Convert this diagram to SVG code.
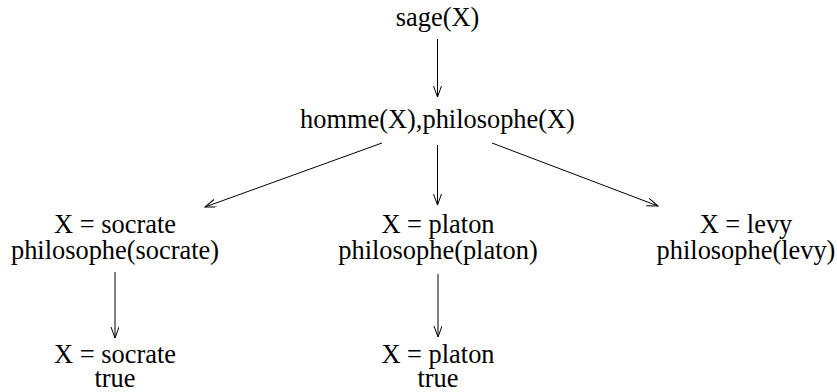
<svg xmlns="http://www.w3.org/2000/svg" width="837" height="392" viewBox="0 0 837 392">
<defs>
<style>
.t{font-family:'Liberation Serif','Times New Roman',Times,serif;font-size:26.4px;fill:#000;text-anchor:middle}
.c line{stroke:#000;stroke-width:1;fill:none;marker-end:url(#ah)}
</style>
<marker id="ah" markerWidth="12" markerHeight="10" refX="11" refY="4" orient="auto" markerUnits="userSpaceOnUse">
<path d="M0,0 L11,4 L0,8" fill="none" stroke="#000" stroke-width="1"/>
</marker>
</defs>
<rect width="837" height="392" fill="#fff"/>
<g class="c" id="connectors">
<line x1="437.5" y1="39" x2="437.5" y2="97"/>
<line x1="382" y1="143" x2="205" y2="207"/>
<line x1="437.5" y1="145" x2="437.5" y2="205"/>
<line x1="492" y1="143" x2="658" y2="206"/>
<line x1="115" y1="272" x2="115" y2="338"/>
<line x1="438" y1="274" x2="438" y2="337"/>
</g>
<g class="t" font-family="Liberation Serif, serif">
<g id="n1"><text x="437.5" y="26">sage(X)</text></g>
<g id="n2"><text x="437.5" y="128">homme(X),philosophe(X)</text></g>
<g id="n3"><text x="115" y="233">X = socrate</text><text x="115" y="258.5">philosophe(socrate)</text></g>
<g id="n4"><text x="438" y="233">X = platon</text><text x="438" y="258.5">philosophe(platon)</text></g>
<g id="n5"><text x="746" y="233">X = levy</text><text x="746" y="258.5">philosophe(levy)</text></g>
<g id="n6"><text x="115" y="362.5">X = socrate</text><text x="115" y="387">true</text></g>
<g id="n7"><text x="438" y="362.5">X = platon</text><text x="438" y="387">true</text></g>
</g>
</svg>
